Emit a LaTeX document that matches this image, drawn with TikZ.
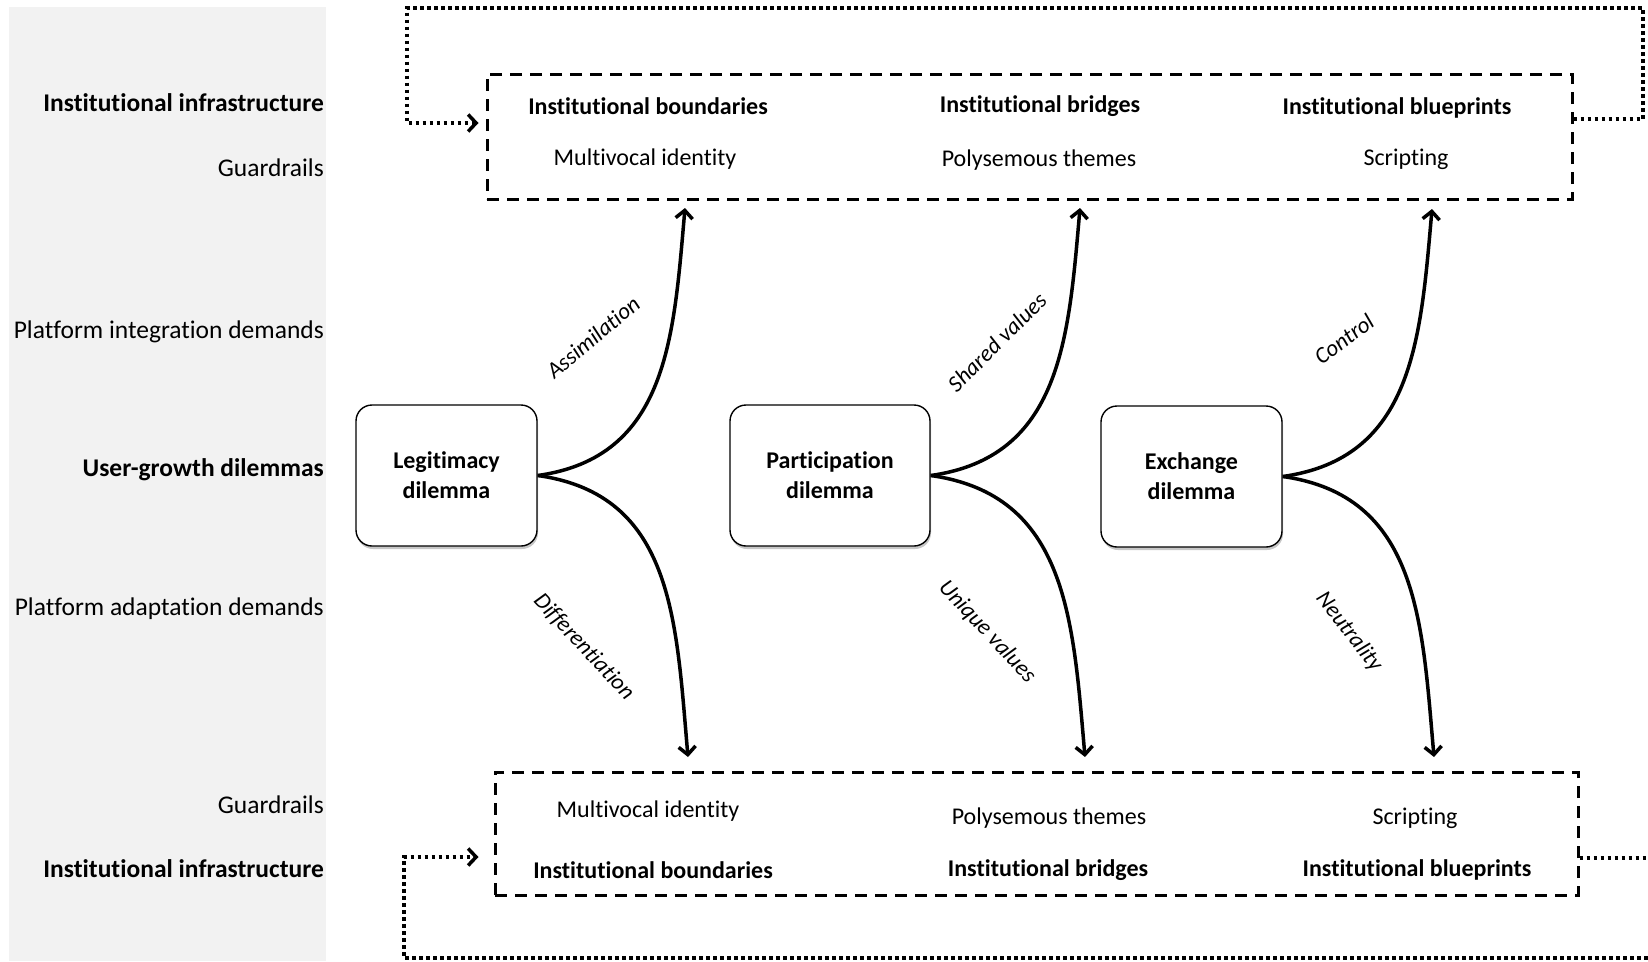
\documentclass[tikz,border=0pt]{standalone}
\usepackage{fontspec}
\setmainfont{Carlito}[Ligatures=NoCommon]
\usetikzlibrary{arrows.meta,shadows}
\definecolor{panelgray}{HTML}{F2F2F2}
\begin{document}
\begin{tikzpicture}[x=1pt,y=-1pt,
  lbl/.style={font=\fontsize{25.5}{30}\selectfont, anchor=east, inner sep=0pt},
  lblb/.style={font=\fontsize{25.5}{30}\selectfont\bfseries, anchor=east, inner sep=0pt},
  dil/.style={draw, line width=1.4pt, rounded corners=16pt, fill=white,
    minimum height=141pt, align=center, inner sep=0pt,
    font=\fontsize{24}{30}\selectfont\bfseries,
    drop shadow={shadow xshift=1pt, shadow yshift=-3pt, opacity=0.22, fill=black}},
  gbox/.style={draw, line width=3pt, dash pattern=on 12pt off 8pt, inner sep=0pt},
  inb/.style={font=\fontsize{24}{28}\selectfont\bfseries, inner sep=0pt},
  inr/.style={font=\fontsize{24}{28}\selectfont, inner sep=0pt},
  loopline/.style={line width=3.5pt, dash pattern=on 3.5pt off 3.5pt,
    -{Straight Barb[length=8pt,width=17pt]}},
  flow/.style={line width=3.5pt, -{Straight Barb[length=8pt,width=17pt]}, looseness=1.1},
  cl/.style={font=\fontsize{23}{28}\selectfont\itshape, inner sep=0pt}
]
\useasboundingbox (0,0) rectangle (1648,961);
\clip (0,0) rectangle (1648,961);

% left panel
\fill[panelgray] (9,7) rectangle (326,961);
\node[lblb] (li1) at (324,103) {Institutional infrastructure};
\node[lbl]  (lg1) at (324,168) {Guardrails};
\node[lbl]  (lp1) at (324,332) {Platform integration demands};
\node[lblb] (lu)  at (324,470) {User-growth dilemmas};
\node[lbl]  (lp2) at (324,609) {Platform adaptation demands};
\node[lbl]  (lg2) at (324,805) {Guardrails};
\node[lblb] (li2) at (324,869) {Institutional infrastructure};

% top guardrail box
\node[gbox, minimum width=1085pt, minimum height=125pt] (topbox) at (1029.5,136.5) {};
\node[inb] (tb1) at (648,106) {Institutional boundaries};
\node[inb] (tb2) at (1040,106) {Institutional bridges};
\node[inb] (tb3) at (1397,108) {Institutional blueprints};
\node[inr] (tr1) at (645,159) {Multivocal identity};
\node[inr] (tr2) at (1039,160) {Polysemous themes};
\node[inr] (tr3) at (1406,159) {Scripting};

% bottom guardrail box
\node[gbox, minimum width=1083pt, minimum height=123pt] (botbox) at (1036.5,833.5) {};
\node[inr] (br1) at (648,811) {Multivocal identity};
\node[inr] (br2) at (1049,818) {Polysemous themes};
\node[inr] (br3) at (1415,818) {Scripting};
\node[inb] (bb1) at (653,870) {Institutional boundaries};
\node[inb] (bb2) at (1048,870) {Institutional bridges};
\node[inb] (bb3) at (1417,870) {Institutional blueprints};

% dilemma boxes
\node[dil, minimum width=181pt] (leg) at (446.5,475.5) {Legitimacy\\dilemma};
\node[dil, minimum width=200pt] (par) at (830,475.5) {Participation\\dilemma};
\node[dil, minimum width=181pt] (exc) at (1191.5,476.5) {Exchange\\dilemma};

% arrow tip points
\coordinate (t1) at (685,208);
\coordinate (t2) at (1080,208);
\coordinate (t3) at (1432,209);
\coordinate (b1) at (688,757);
\coordinate (b2) at (1085,757);
\coordinate (b3) at (1434,757);

\draw[flow] (leg.east) to[out=8,in=-95] (t1);
\draw[flow] (leg.east) to[out=-8,in=95] (b1);
\draw[flow] (par.east) to[out=8,in=-95] (t2);
\draw[flow] (par.east) to[out=-8,in=95] (b2);
\draw[flow] (exc.east) to[out=8,in=-95] (t3);
\draw[flow] (exc.east) to[out=-8,in=95] (b3);

% curve labels
\node[cl, rotate=40]  (lA) at (593,337) {Assimilation};
\node[cl, rotate=-47] (lD) at (584,647) {Differentiation};
\node[cl, rotate=45]  (lS) at (997,342) {Shared values};
\node[cl, rotate=-47] (lU) at (987,632) {Unique values};
\node[cl, rotate=37]  (lC) at (1344,339) {Control};
\node[cl, rotate=-52] (lN) at (1349,632) {Neutrality};

% dotted feedback loops
\coordinate (qr) at (1643,119);
\coordinate (qrt) at (1643,8);
\coordinate (qlt) at (407,8);
\coordinate (ql) at (407,123);
\draw[loopline, shorten >=7pt] (topbox.east |- qr) -- (qr) -- (qrt) -- (qlt) -- (ql) -- (topbox.west |- ql);

\coordinate (pr) at (1665,858);
\coordinate (prb) at (1665,958);
\coordinate (plb) at (404,958);
\coordinate (pl) at (404,857);
\draw[loopline, shorten >=15pt] (botbox.east |- pr) -- (pr) -- (prb) -- (plb) -- (pl) -- (botbox.west |- pl);
\end{tikzpicture}
\end{document}
